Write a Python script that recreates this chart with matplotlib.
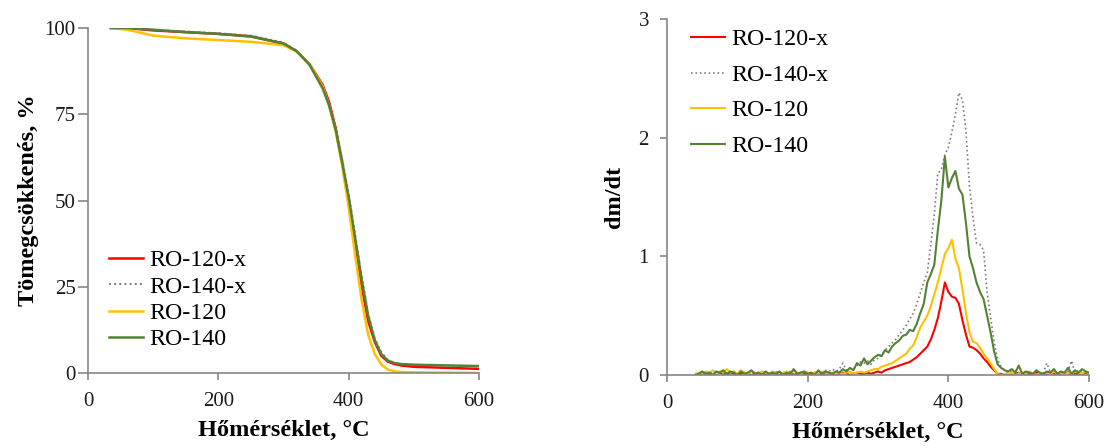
import matplotlib
matplotlib.use("Agg")
import matplotlib.pyplot as plt
import numpy as np

plt.rcParams['font.family'] = ['Liberation Serif', 'DejaVu Serif']

labels = ["RO-120-x", "RO-140-x", "RO-120", "RO-140"]
colors = ["#ff0000", "#7f7f7f", "#ffc000", "#548235"]
styles = ["-", ":", "-", "-"]

# --- TG (mass loss, %) ---
t_tg = [35, 60, 100, 150, 200, 250, 300, 320, 340, 360, 370, 380, 390, 400,
        410, 420, 430, 440, 450, 460, 470, 480, 500, 550, 600]
tg_120x = [100, 100, 99.3, 98.8, 98.3, 97.6, 95.5, 93.3, 89.5, 83.5, 78.5, 71, 61, 49.5,
           37, 25, 15, 9, 5, 3.3, 2.6, 2.2, 1.8, 1.5, 1.2]
tg_140x = [100, 100, 99.5, 99, 98.5, 97.8, 95.8, 93.5, 89.5, 83, 78, 71, 62, 52,
           40, 28, 17, 10, 6, 3.8, 3, 2.6, 2.4, 2.2, 2.0]
tg_120 = [100, 99.5, 97.8, 97, 96.5, 96, 95, 93.2, 89.5, 83, 77.5, 70, 60, 48,
          34, 21, 11, 5.5, 2.5, 1, 0.5, 0.3, 0.2, 0.1, 0.0]
tg_140 = [100, 100, 99.5, 98.8, 98.3, 97.5, 95.5, 93.3, 89.3, 82.5, 77.5, 70.5, 61, 51,
          39, 27, 16.5, 9.5, 5.5, 3.6, 2.9, 2.6, 2.4, 2.2, 2.0]

# --- DTG (dm/dt), every 5 degC from 40 to 600 ---
t_dtg = list(range(40, 601, 5))
dtg_120x = [
    0.00, 0.01, 0.00, 0.02, 0.01, 0.00, 0.01, 0.02, 0.01, 0.00,
    0.02, 0.01, 0.00, 0.01, 0.02, 0.01, 0.00, 0.01, 0.02, 0.01,
    0.00, 0.01, 0.02, 0.01, 0.00, 0.01, 0.01, 0.02, 0.00, 0.01,
    0.02, 0.01, 0.00, 0.01, 0.02, 0.01, 0.00, 0.01, 0.02, 0.01,
    0.00, 0.01, 0.02, 0.01, 0.00, 0.01, 0.02, 0.01,
    0.01, 0.02, 0.01, 0.02, 0.03, 0.02, 0.04, 0.05, 0.06, 0.07,
    0.08, 0.09, 0.10, 0.11, 0.13, 0.15, 0.18, 0.21, 0.24, 0.30,
    0.38, 0.48, 0.62, 0.78, 0.70, 0.66, 0.65, 0.60, 0.46, 0.34,
    0.24, 0.23, 0.21, 0.18, 0.14, 0.11, 0.07, 0.04, 0.01, 0.01, 0.00,
    0.01, 0.00, 0.01, 0.02, 0.00, 0.01, 0.01, 0.00, 0.02, 0.01, 0.00, 0.01,
    0.02, 0.01, 0.00, 0.01, 0.01, 0.02, 0.00, 0.01, 0.01, 0.00, 0.02, 0.01]
dtg_140x = [
    0.01, 0.02, 0.00, 0.02, 0.01, 0.03, 0.01, 0.02, 0.00, 0.02,
    0.01, 0.03, 0.02, 0.01, 0.02, 0.00, 0.03, 0.01, 0.02, 0.01,
    0.02, 0.00, 0.01, 0.03, 0.02, 0.01, 0.02, 0.03, 0.01, 0.02,
    0.01, 0.02, 0.03, 0.01, 0.02, 0.03, 0.02, 0.04, 0.03, 0.05,
    0.03, 0.05, 0.10, 0.04, 0.06, 0.05, 0.08, 0.11,
    0.10, 0.12, 0.09, 0.13, 0.14, 0.17, 0.21, 0.24, 0.27, 0.30,
    0.34, 0.38, 0.42, 0.47, 0.52, 0.60, 0.69, 0.78, 0.86, 1.10,
    1.36, 1.70, 1.73, 1.86, 1.92, 2.05, 2.20, 2.38, 2.32, 2.05,
    1.59, 1.33, 1.11, 1.10, 1.05, 0.70, 0.49, 0.28, 0.13, 0.07, 0.04,
    0.02, 0.03, 0.01, 0.02, 0.01, 0.02, 0.03, 0.01, 0.02, 0.01, 0.02, 0.10,
    0.02, 0.01, 0.03, 0.02, 0.01, 0.03, 0.12, 0.02, 0.04, 0.02, 0.03, 0.01]
dtg_120 = [
    0.00, 0.02, 0.01, 0.03, 0.02, 0.04, 0.01, 0.03, 0.02, 0.05,
    0.02, 0.03, 0.01, 0.04, 0.02, 0.01, 0.03, 0.02, 0.01, 0.03,
    0.02, 0.01, 0.03, 0.02, 0.01, 0.02, 0.03, 0.01, 0.04, 0.02,
    0.01, 0.03, 0.02, 0.01, 0.02, 0.01, 0.03, 0.02, 0.01, 0.02,
    0.01, 0.02, 0.01, 0.02, 0.03, 0.01, 0.02, 0.03,
    0.02, 0.03, 0.04, 0.05, 0.05, 0.07, 0.08, 0.09, 0.10, 0.12,
    0.14, 0.16, 0.18, 0.22, 0.25, 0.32, 0.40, 0.45, 0.50, 0.58,
    0.68, 0.78, 0.90, 1.02, 1.07, 1.14, 0.98, 0.90, 0.72, 0.52,
    0.36, 0.28, 0.27, 0.23, 0.18, 0.14, 0.10, 0.05, 0.01, 0.00, 0.01,
    0.01, 0.02, 0.00, 0.01, 0.02, 0.01, 0.03, 0.01, 0.00, 0.02, 0.01, 0.02,
    0.01, 0.03, 0.01, 0.02, 0.00, 0.02, 0.01, 0.03, 0.02, 0.01, 0.03, 0.01]
dtg_140 = [
    0.00, 0.01, 0.03, 0.01, 0.02, 0.00, 0.03, 0.02, 0.04, 0.01,
    0.03, 0.02, 0.00, 0.03, 0.01, 0.02, 0.04, 0.01, 0.02, 0.00,
    0.03, 0.01, 0.02, 0.01, 0.03, 0.00, 0.02, 0.01, 0.05, 0.01,
    0.02, 0.03, 0.01, 0.02, 0.00, 0.04, 0.01, 0.03, 0.02, 0.01,
    0.03, 0.02, 0.05, 0.03, 0.06, 0.04, 0.10, 0.08,
    0.14, 0.09, 0.12, 0.15, 0.17, 0.16, 0.21, 0.19, 0.24, 0.27,
    0.29, 0.33, 0.34, 0.38, 0.37, 0.43, 0.52, 0.60, 0.78, 0.85,
    0.93, 1.22, 1.47, 1.84, 1.58, 1.66, 1.72, 1.57, 1.52, 1.28,
    1.00, 0.90, 0.78, 0.70, 0.64, 0.50, 0.36, 0.20, 0.09, 0.06, 0.04,
    0.03, 0.05, 0.02, 0.08, 0.01, 0.03, 0.02, 0.01, 0.04, 0.02, 0.01, 0.03,
    0.02, 0.05, 0.01, 0.03, 0.02, 0.06, 0.01, 0.04, 0.02, 0.05, 0.03, 0.02]

tg = [tg_120x, tg_140x, tg_120, tg_140]
dtg = [dtg_120x, dtg_140x, dtg_120, dtg_140]

fig = plt.figure(figsize=(11.13, 4.48), dpi=100)
ax1 = fig.add_axes([0.0791, 0.1674, 0.3513, 0.7701])
ax2 = fig.add_axes([0.5993, 0.1629, 0.3792, 0.7946])

spine_c = "#868686"
text_c = "#1a1a1a"

for lbl, c, ls, y in zip(labels, colors, styles, tg):
    ax1.plot(t_tg, y, color=c, ls=ls, lw=1.8 if ls == "-" else 1.4, label=lbl)
for lbl, c, ls, y in zip(labels, colors, styles, dtg):
    ax2.plot(t_dtg, y, color=c, ls=ls, lw=1.5 if ls == "-" else 1.2, label=lbl)

ax1.set_xlim(0, 600); ax1.set_ylim(0, 100)
ax1.set_xticks([0, 200, 400, 600]); ax1.set_yticks([0, 25, 50, 75, 100])
ax2.set_xlim(0, 600); ax2.set_ylim(0, 3)
ax2.set_xticks([0, 200, 400, 600]); ax2.set_yticks([0, 1, 2, 3])

for ax in (ax1, ax2):
    ax.spines["top"].set_visible(False)
    ax.spines["right"].set_visible(False)
    for s in ("left", "bottom"):
        ax.spines[s].set_color(spine_c)
        ax.spines[s].set_linewidth(1.2)
    ax.tick_params(axis="x", direction="out", length=5, width=1.2, color=spine_c,
                   labelsize=15, labelcolor=text_c, pad=9)
    ax.set_xlabel("Hőmérséklet, °C", fontsize=17.5, fontweight="bold", labelpad=6)

ax1.tick_params(axis="y", direction="out", length=7, width=1.2, color=spine_c,
                labelsize=15, labelcolor=text_c, pad=2)
ax2.tick_params(axis="y", direction="out", length=5, width=1.2, color=spine_c,
                labelsize=15, labelcolor=text_c, pad=8)
ax1.set_ylabel("Tömegcsökkenés, %", fontsize=17.5, fontweight="bold", labelpad=4)
ax2.set_ylabel("dm/dt", fontsize=17.5, fontweight="bold", labelpad=10)

ax1.legend(loc="upper left", bbox_to_anchor=(0.029, 0.385), frameon=False,
           fontsize=17.2, handlelength=1.42, handletextpad=0.25, labelspacing=0.19,
           borderaxespad=0)
ax2.legend(loc="upper left", bbox_to_anchor=(0.034, 1.0), frameon=False,
           fontsize=17.2, handlelength=1.42, handletextpad=0.25, labelspacing=0.58,
           borderaxespad=0)

fig.savefig("out.png", dpi=100)
